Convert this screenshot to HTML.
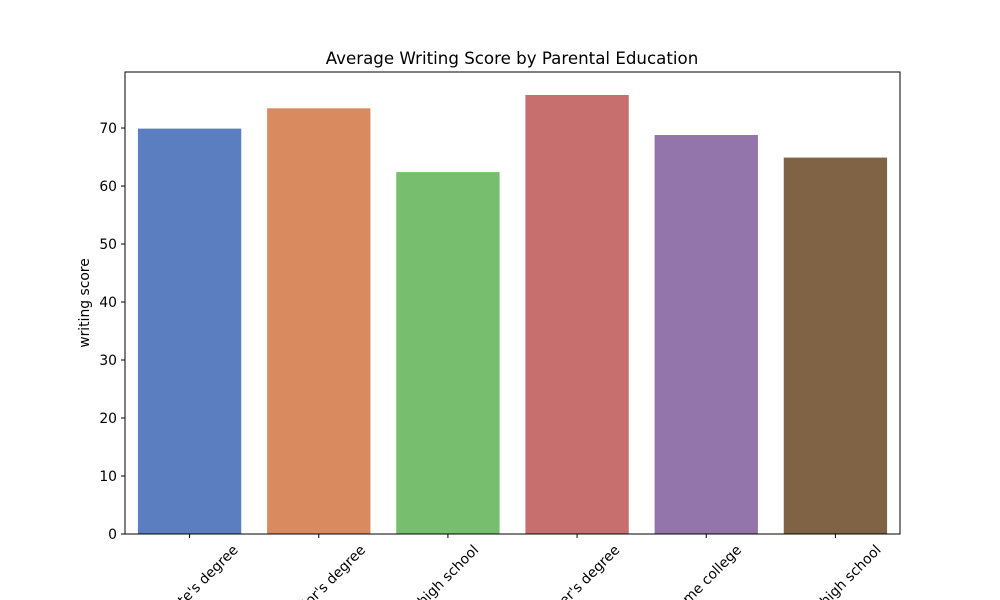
<!DOCTYPE html>
<html><head><meta charset="utf-8"><style>html,body{margin:0;background:#fff;width:1000px;height:600px;overflow:hidden}svg{display:block;font-family:"DejaVu Sans","Liberation Sans",sans-serif}</style></head>
<body>
<svg id="chart" width="1000" height="600" overflow="hidden">
<defs><clipPath id="frameClip"><rect x="0" y="0" width="1000" height="600"/></clipPath></defs>
<text x="512" y="64" text-anchor="middle" font-size="16.67">Average Writing Score by Parental Education</text>
<text transform="translate(89,303) rotate(-90)" text-anchor="middle" font-size="13.89">writing score</text>
<g id="bars"></g><g id="yticks"></g><g id="xticks" clip-path="url(#frameClip)"></g>
<rect x="125" y="72" width="775" height="462" fill="none" stroke="#000" stroke-width="1"/>
</svg>
<script>
const categories=["associate's degree","bachelor's degree","high school","master's degree","some college","some high school"];
const values=[69.9,73.4,62.4,75.7,68.8,64.9];
const colors=["#5a7ec0","#d98b5f","#77bf6f","#c66f6e","#9475ab","#806245"];
const yTicks=[0,10,20,30,40,50,60,70];
const NS="http://www.w3.org/2000/svg";
const L=125,R=900,T=72,B=534,yMax=79.66;
const y=v=>B-(B-T)*v/yMax;
const band=(R-L)/categories.length;
const xc=i=>L+band*(i+0.5);
function mk(tag,attrs,parent){const e=document.createElementNS(NS,tag);for(const k in attrs)e.setAttribute(k,attrs[k]);parent.appendChild(e);return e;}
const gb=document.getElementById('bars'),gy=document.getElementById('yticks'),gx=document.getElementById('xticks');
values.forEach((v,i)=>{
 const w=band*0.8;
 const r=mk('rect',{x:xc(i)-w/2,y:y(v),width:w,height:B-y(v),fill:colors[i]},gb);
 
 
});
yTicks.forEach(t=>{
 const l=mk('line',{x1:L-4,x2:L,y1:y(t),y2:y(t),stroke:'#000'},gy);
 
 
 const tx=mk('text',{x:L-8,y:y(t)+4.8,'text-anchor':'end','font-size':13.89},gy);
 tx.textContent=t;
 
 
});
categories.forEach((c,i)=>{
 const x=xc(i);
 const l=mk('line',{x1:x,x2:x,y1:B,y2:B+4,stroke:'#000'},gx);
 
 
 const tx=mk('text',{'text-anchor':'middle','font-size':13.89},gx);
 tx.textContent=c;
 
 
 const len=tx.getComputedTextLength();
 const h=(len+15)*0.7071;
 const cy=B+8+h/2;
 tx.setAttribute('transform','translate('+x+','+cy+') rotate(-45) translate(0,4.8)');
});
</script>
</body></html>
